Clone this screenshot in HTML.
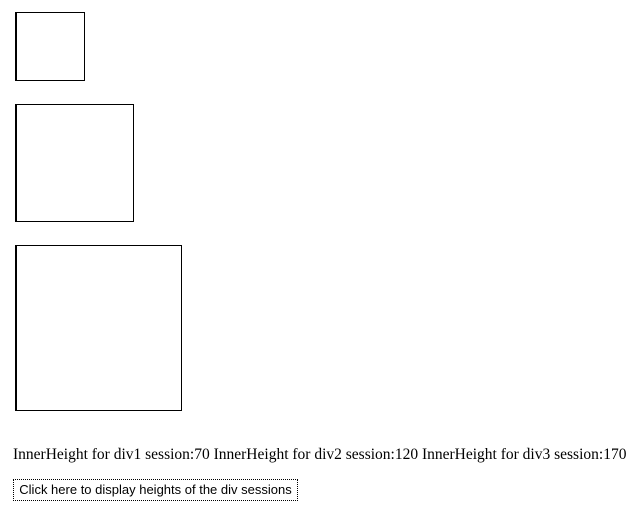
<!DOCTYPE html>
<html><head><style>
body{margin:0;width:631px;height:507px;background:#fff;position:relative;font-family:"Liberation Serif",serif;}
.b{position:absolute;border:1px solid #000;border-left-width:2px;box-sizing:border-box;}
#t{position:absolute;left:13px;top:446px;font-size:15.5px;white-space:nowrap;color:#000;}
#btn{position:absolute;left:13px;top:479px;width:285px;height:22px;box-sizing:border-box;border:1px dotted #000;font-family:"Liberation Sans",sans-serif;font-size:13px;white-space:nowrap;text-align:center;line-height:20px;background:#fff;}
</style></head><body>
<div class="b" style="left:15px;top:12px;width:70px;height:69px"></div>
<div class="b" style="left:15px;top:104px;width:119px;height:118px"></div>
<div class="b" style="left:15px;top:245px;width:167px;height:166px"></div>
<div id="t">InnerHeight for div1 session:70 InnerHeight for div2 session:120 InnerHeight for div3 session:170</div>
<div id="btn">Click here to display heights of the div sessions</div>
</body></html>
